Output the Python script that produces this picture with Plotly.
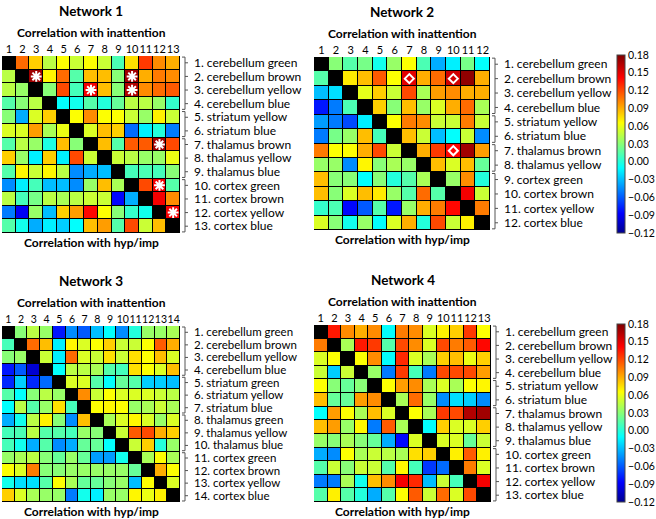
import plotly.graph_objects as go

N = None  # diagonal cell, drawn black

net1_labels = ["1. cerebellum green", "2. cerebellum brown", "3. cerebellum yellow", "4. cerebellum blue",
               "5. striatum yellow", "6. striatum blue", "7. thalamus brown", "8. thalamus yellow",
               "9. thalamus blue", "10. cortex green", "11. cortex brown", "12. cortex yellow", "13. cortex blue"]
net1_values = [
    [N, 0.11, 0.08, 0.045, 0.065, 0.05, 0.065, 0.05, 0.012, 0.075, 0.125, 0.1, 0.09],
    [0.045, N, 0.17, 0.068, 0.11, 0.015, 0.085, 0.085, 0.03, 0.17, 0.09, 0.105, 0.1],
    [0.045, 0.035, N, 0.03, 0.12, 0.01, 0.145, 0.085, 0.03, 0.165, 0.1, 0.11, 0.115],
    [0.015, 0.03, 0.045, N, -0.01, -0.005, 0.015, 0.0, 0.02, 0.045, 0.045, 0.035, 0.005],
    [0.03, -0.035, 0.055, 0.08, N, 0.065, 0.1, 0.065, 0.065, 0.05, 0.035, 0.07, 0.05],
    [0.055, 0.055, 0.095, 0.04, 0.06, N, 0.055, 0.085, 0.08, -0.055, -0.015, 0.0, -0.05],
    [0.015, 0.045, 0.035, -0.002, 0.085, 0.03, N, 0.085, 0.015, 0.115, 0.115, 0.17, 0.12],
    [0.08, 0.035, -0.015, 0.08, -0.015, 0.12, 0.05, N, 0.05, 0.045, 0.035, 0.035, 0.06],
    [0.015, 0.068, 0.05, 0.068, 0.045, -0.045, -0.035, -0.03, N, 0.01, 0.012, 0.01, 0.03],
    [-0.045, -0.015, 0.01, -0.03, -0.03, -0.045, 0.035, 0.085, 0.04, N, 0.12, 0.145, 0.015],
    [0.045, 0.01, 0.025, 0.045, 0.04, 0.045, 0.05, 0.05, -0.085, -0.035, N, 0.145, 0.1],
    [-0.05, -0.09, 0.035, -0.03, 0.08, 0.095, 0.14, 0.065, 0.03, 0.005, -0.005, N, 0.145],
    [0.015, -0.005, -0.035, -0.015, -0.025, -0.01, 0.085, 0.095, 0.015, 0.12, 0.05, 0.085, N],
]
net1_marks = [(2, 3), (2, 10), (3, 7), (3, 10), (7, 12), (10, 12), (12, 13)]
net1_groups = [(1, 4), (5, 6), (7, 9), (10, 13)]

net2_labels = ["1. cerebellum green", "2. cerebellum brown", "3. cerebellum yellow", "4. cerebellum blue",
               "5. striatum yellow", "6. striatum blue", "7. thalamus brown", "8. thalamus yellow",
               "9. cortex green", "10. cortex brown", "11. cortex yellow", "12. cortex blue"]
net2_values = [
    [N, 0.03, 0.015, 0.025, -0.005, 0.035, 0.065, 0.012, -0.035, -0.015, 0.025, -0.01],
    [0.015, N, 0.072, 0.085, 0.115, 0.065, 0.15, 0.09, 0.11, 0.155, 0.175, 0.09],
    [-0.03, -0.02, N, 0.058, 0.08, 0.05, 0.12, 0.04, 0.095, 0.1, 0.09, 0.09],
    [-0.08, -0.05, 0.012, N, 0.08, 0.03, 0.085, 0.035, 0.055, 0.09, 0.11, 0.04],
    [-0.04, -0.05, -0.065, -0.015, N, 0.065, 0.105, 0.1, 0.05, 0.05, 0.105, 0.05],
    [-0.05, 0.025, 0.035, 0.085, 0.01, N, 0.085, 0.05, -0.03, -0.01, 0.05, -0.045],
    [0.105, 0.065, 0.065, 0.09, 0.12, 0.05, N, 0.09, 0.125, 0.14, 0.17, 0.095],
    [0.035, 0.035, -0.045, 0.068, 0.03, 0.04, 0.035, N, 0.085, 0.055, 0.085, 0.02],
    [0.085, 0.03, 0.03, -0.01, 0.03, 0.0, 0.015, 0.04, N, 0.035, 0.1, 0.0],
    [0.085, 0.03, 0.055, 0.085, 0.072, 0.035, 0.015, 0.11, 0.015, N, 0.145, 0.05],
    [0.005, 0.012, -0.085, -0.06, 0.015, -0.08, 0.035, 0.09, 0.105, 0.14, N, 0.105],
    [0.055, 0.03, -0.005, 0.035, -0.01, 0.055, 0.09, 0.0, 0.12, 0.05, 0.07, N],
]
net2_marks = [(2, 7), (2, 10), (7, 10)]
net2_groups = [(1, 4), (5, 6), (7, 8), (9, 12)]

net3_labels = ["1. cerebellum green", "2. cerebellum brown", "3. cerebellum yellow", "4. cerebellum blue",
               "5. striatum green", "6. striatum yellow", "7. striatum blue", "8. thalamus green",
               "9. thalamus yellow", "10. thalamus blue", "11. cortex green", "12. cortex brown",
               "13. cortex yellow", "14. cortex blue"]
net3_values = [
    [N, 0.03, 0.045, 0.035, -0.08, -0.045, -0.06, -0.03, -0.01, -0.045, 0.0, 0.035, 0.035, 0.04],
    [0.01, N, 0.11, 0.085, -0.015, 0.068, 0.055, 0.065, 0.08, 0.05, 0.05, 0.065, 0.115, 0.09],
    [0.03, 0.035, N, 0.05, -0.015, 0.11, 0.055, 0.05, 0.075, 0.05, 0.075, 0.065, 0.085, 0.055],
    [-0.08, -0.06, -0.1, N, -0.01, 0.045, 0.045, 0.04, 0.015, 0.01, 0.075, 0.065, 0.055, 0.085],
    [-0.075, -0.025, -0.075, -0.055, N, 0.055, 0.055, 0.015, -0.01, 0.02, 0.015, -0.025, -0.025, -0.03],
    [0.015, -0.01, 0.03, 0.045, 0.035, N, 0.1, 0.05, 0.065, 0.055, 0.055, 0.055, 0.05, 0.045],
    [-0.01, 0.045, 0.015, 0.035, 0.075, 0.01, N, 0.065, 0.068, 0.065, 0.035, 0.04, 0.05, 0.04],
    [-0.035, -0.005, 0.045, 0.07, 0.03, -0.045, 0.085, N, 0.04, 0.055, 0.068, 0.055, 0.035, 0.055],
    [0.01, 0.012, 0.045, 0.015, 0.015, 0.01, 0.035, 0.03, N, 0.05, 0.115, 0.12, 0.09, 0.08],
    [0.01, -0.005, -0.035, 0.015, -0.045, -0.035, 0.02, 0.02, -0.01, N, 0.05, 0.08, 0.0, 0.035],
    [0.035, 0.04, 0.045, 0.03, 0.02, 0.035, 0.02, -0.04, -0.04, -0.005, N, 0.04, 0.065, 0.04],
    [0.065, 0.055, 0.105, 0.03, 0.03, 0.035, 0.035, 0.035, 0.035, 0.035, 0.02, N, 0.09, 0.065],
    [-0.005, -0.02, -0.02, 0.015, 0.065, 0.04, 0.02, 0.02, 0.03, 0.035, -0.03, 0.065, N, 0.055],
    [0.08, 0.055, 0.04, 0.035, 0.035, -0.05, -0.005, -0.015, 0.035, 0.035, 0.068, 0.06, 0.07, N],
]
net3_marks = []
net3_groups = [(1, 4), (5, 7), (8, 10), (11, 14)]

net4_labels = ["1. cerebellum green", "2. cerebellum brown", "3. cerebellum yellow", "4. cerebellum blue",
               "5. striatum yellow", "6. striatum blue", "7. thalamus brown", "8. thalamus yellow",
               "9. thalamus blue", "10. cortex green", "11. cortex brown", "12. cortex yellow", "13. cortex blue"]
net4_values = [
    [N, 0.135, 0.1, 0.09, 0.1, -0.01, 0.105, 0.1, 0.055, 0.07, 0.08, 0.125, 0.065],
    [0.105, N, 0.04, 0.135, 0.125, 0.015, 0.12, 0.1, 0.055, 0.12, 0.105, 0.115, 0.14],
    [0.055, 0.065, N, 0.065, 0.1, -0.01, 0.13, 0.055, 0.04, 0.08, 0.085, 0.06, 0.08],
    [0.05, -0.025, 0.05, N, 0.035, -0.05, 0.125, 0.01, -0.05, 0.12, 0.12, 0.12, 0.095],
    [0.065, 0.03, 0.02, 0.03, N, 0.065, 0.095, 0.1, 0.04, 0.055, 0.04, 0.065, 0.068],
    [0.085, 0.02, 0.02, 0.095, 0.1, N, 0.04, 0.11, 0.035, -0.045, -0.02, -0.025, -0.045],
    [-0.01, 0.095, 0.065, 0.04, 0.085, 0.055, N, 0.065, 0.04, 0.125, 0.12, 0.165, 0.17],
    [0.085, 0.095, 0.035, 0.068, -0.05, 0.115, 0.04, N, -0.01, 0.08, 0.055, 0.055, 0.08],
    [0.035, 0.03, 0.04, 0.03, 0.02, -0.035, -0.085, 0.055, N, 0.055, 0.055, 0.02, 0.05],
    [-0.035, -0.045, 0.065, 0.04, 0.05, 0.045, 0.04, 0.075, 0.08, N, 0.07, 0.115, 0.07],
    [0.015, 0.05, 0.03, 0.05, 0.05, 0.015, 0.068, 0.01, -0.07, -0.055, N, 0.105, 0.055],
    [-0.05, -0.05, 0.04, -0.005, 0.085, 0.1, 0.145, 0.13, -0.03, 0.05, 0.01, N, 0.145],
    [0.015, 0.07, 0.015, 0.0, -0.035, 0.015, 0.065, 0.115, 0.05, 0.11, 0.055, 0.12, N],
]
net4_marks = []
net4_groups = [(1, 4), (5, 6), (7, 9), (10, 13)]

jet = [[0.0, "rgb(0,0,143)"], [0.111, "rgb(0,0,255)"], [0.365, "rgb(0,255,255)"],
       [0.619, "rgb(255,255,0)"], [0.873, "rgb(255,0,0)"], [1.0, "rgb(128,0,0)"]]

W, H = 656, 519
FONT = "Lato, 'Open Sans', sans-serif"

# panel boxes in pixels: left, right, top, bottom
panels = [
    dict(name="Network 1", labels=net1_labels, z=net1_values, marks=net1_marks, groups=net1_groups,
         box=(2, 180, 56, 233), sym="asterisk-open", ca="coloraxis", tick=11, lab=12),
    dict(name="Network 2", labels=net2_labels, z=net2_values, marks=net2_marks, groups=net2_groups,
         box=(314, 490, 57, 230), sym="diamond-open", ca="coloraxis", tick=11, lab=12),
    dict(name="Network 3", labels=net3_labels, z=net3_values, marks=net3_marks, groups=net3_groups,
         box=(2, 180, 326, 502), sym="asterisk-open", ca="coloraxis2", tick=10.5, lab=11.5),
    dict(name="Network 4", labels=net4_labels, z=net4_values, marks=net4_marks, groups=net4_groups,
         box=(314, 491, 325, 502), sym="asterisk-open", ca="coloraxis2", tick=11, lab=12),
]

fig = go.Figure()
shapes = []
annotations = []

for i, p in enumerate(panels, start=1):
    n = len(p["labels"])
    idx = list(range(1, n + 1))
    x0, x1, y0, y1 = p["box"]
    xa = "x" if i == 1 else f"x{i}"
    ya = "y" if i == 1 else f"y{i}"
    fig.add_trace(go.Heatmap(z=p["z"], x=idx, y=idx, coloraxis=p["ca"], xgap=1, ygap=1,
                             xaxis=xa, yaxis=ya, hoverongaps=False))
    if p["marks"]:
        fig.add_trace(go.Scatter(
            x=[c for r, c in p["marks"]], y=[r for r, c in p["marks"]], mode="markers",
            marker=dict(symbol=p["sym"], size=9 if "asterisk" in p["sym"] else 7,
                        color="white", line=dict(color="white", width=2)),
            xaxis=xa, yaxis=ya, showlegend=False, hoverinfo="skip"))

    fig.update_layout({
        f"xaxis{'' if i == 1 else i}": dict(
            domain=[x0 / W, x1 / W], range=[0.5, n + 0.5], side="top", tickvals=idx,
            ticks="", showgrid=False, zeroline=False, anchor=ya, ticklabelstandoff=0,
            tickangle=0, automargin=False,
            tickfont=dict(size=p["tick"], color="black", family=FONT), fixedrange=True),
        f"yaxis{'' if i == 1 else i}": dict(
            domain=[1 - y1 / H, 1 - y0 / H], range=[n + 0.5, 0.5], side="right", tickvals=idx,
            ticktext=p["labels"], ticks="", showgrid=False, zeroline=False, anchor=xa,
            ticklabelstandoff=13, automargin=False,
            tickfont=dict(size=p["lab"], color="black", family=FONT), fixedrange=True),
    })

    # region brackets right of each matrix
    pw = x1 - x0
    for a, b in p["groups"]:
        ys, ye = a - 0.42, b + 0.42
        xl, xm, xr = 1 + 2 / pw, 1 + 5 / pw, 1 + 8 / pw
        dom = f"{xa} domain"
        line = dict(color="#555555", width=1)
        shapes.append(dict(type="line", xref=dom, yref=ya, x0=xm, x1=xm, y0=ys, y1=ye, line=line))
        shapes.append(dict(type="line", xref=dom, yref=ya, x0=xl, x1=xm, y0=ys, y1=ys, line=line))
        shapes.append(dict(type="line", xref=dom, yref=ya, x0=xl, x1=xm, y0=ye, y1=ye, line=line))
        for r in range(a, b + 1):
            shapes.append(dict(type="line", xref=dom, yref=ya, x0=xm, x1=xr, y0=r, y1=r, line=line))

    cx = (x0 + x1) / 2 / W
    common = dict(x=cx, xref="paper", yref="paper", showarrow=False, xanchor="center", yanchor="middle")
    annotations.append(dict(common, text=f"<b>{p['name']}</b>", y=1 - (y0 - 45) / H,
                            font=dict(size=13.5, family=FONT, color="black")))
    annotations.append(dict(common, text="<b>Correlation with inattention</b>", y=1 - (y0 - 24) / H,
                            font=dict(size=12, family=FONT, color="black")))
    annotations.append(dict(common, text="<b>Correlation with hyp/imp</b>", y=1 - (y1 + 9) / H,
                            font=dict(size=12, family=FONT, color="black")))

cbar = dict(thickness=8, x=617 / W, xanchor="left", tickvals=[-0.12 + 0.03 * k for k in range(11)],
            tickformat=".2f", ticks="", outlinewidth=1, outlinecolor="#444", xpad=0, ypad=0,
            tickfont=dict(size=10.5, family=FONT, color="black"), lenmode="fraction", yanchor="middle")

fig.update_layout(
    width=W, height=H, margin=dict(l=0, r=0, t=0, b=0, autoexpand=False),
    paper_bgcolor="white", plot_bgcolor="black", showlegend=False,
    coloraxis=dict(colorscale=jet, cmin=-0.12, cmax=0.18,
                   colorbar=dict(cbar, len=178 / H, y=1 - 144 / H)),
    coloraxis2=dict(colorscale=jet, cmin=-0.12, cmax=0.18,
                    colorbar=dict(cbar, len=178 / H, y=1 - 413 / H)),
    shapes=shapes, annotations=annotations,
    font=dict(family=FONT),
)

fig.write_html("out.html", config={"displayModeBar": False},
               post_script="document.body.style.margin='0';")
